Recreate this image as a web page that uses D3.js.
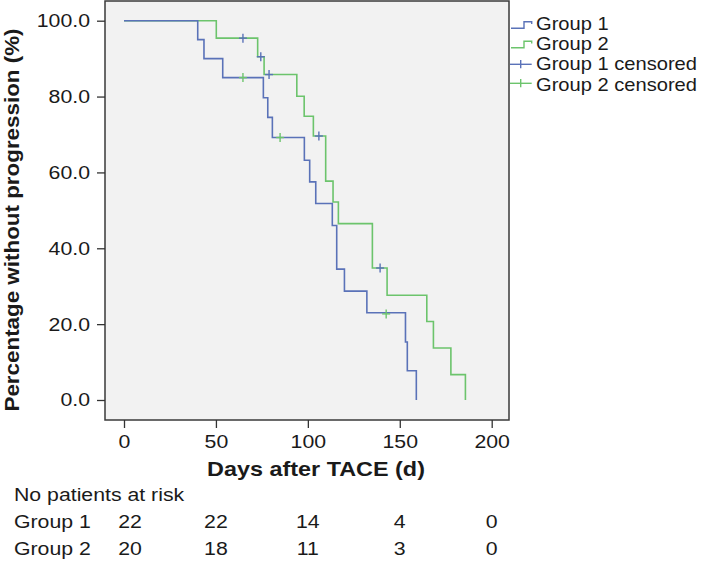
<!DOCTYPE html>
<html>
<head>
<meta charset="utf-8">
<script src="https://cdn.jsdelivr.net/npm/d3@7"></script>
<style>
  html, body { margin: 0; padding: 0; background: #ffffff; }
  svg { display: block; }
  text { font-family: "Liberation Sans", Arial, sans-serif; fill: #1a1a1a; }
</style>
</head>
<body>
<svg id="chart" width="703" height="561"></svg>
<script>
// ---- data ----
const group1Times  = [0, 40.1, 43.5, 53.7, 75.8, 78.2, 80.7, 98.1, 101.0, 104.3, 113.3, 115.7, 119.9, 132.1, 153.1, 154.1, 159.0];
const group1Values = [100, 95.0, 90.0, 85.0, 79.7, 74.5, 69.2, 63.2, 57.5, 51.8, 46.0, 34.5, 28.7, 23.0, 15.3, 7.7, 0.0];
const group2Times  = [0, 50.2, 72.7, 76.2, 94.0, 98.0, 103.0, 109.7, 113.7, 116.6, 135.1, 143.1, 164.7, 168.3, 177.8, 185.7];
const group2Values = [100, 95.4, 90.5, 85.8, 80.1, 74.8, 69.6, 57.7, 52.2, 46.5, 34.8, 27.6, 20.7, 13.7, 6.7, 0.0];
// censored marks as they appear in the picture (colour per legend entry)
const group1CensoredTimes  = [64.7, 74.4, 78.9, 106.0, 139.3];
const group1CensoredValues = [95.4, 90.5, 85.8, 69.6, 34.8];
const group2CensoredTimes  = [64.7, 84.9, 142.6];
const group2CensoredValues = [85.0, 69.2, 22.7];

const legendLabels = ["Group 1", "Group 2", "Group 1 censored", "Group 2 censored"];
const xTicks = [0, 50, 100, 150, 200];
const yTicks = [0, 20, 40, 60, 80, 100];
const riskTitle = "No patients at risk";
const riskGroups = ["Group 1", "Group 2"];
const riskTimes = [0, 50, 100, 150, 200];
const riskGroup1 = [22, 22, 14, 4, 0];
const riskGroup2 = [20, 18, 11, 3, 0];
const xTitle = "Days after TACE (d)";
const yTitle = "Percentage without progression (%)";

// ---- drawing ----
const blue = "#5a72b8", green = "#6cc46c";
const svg = d3.select("#chart");
const frame = {left: 105, right: 509, top: 1, bottom: 420};
const FS = 18.5, SX = 1.15;

const x = d3.scaleLinear().domain([0, 200]).range([124, 491.7]);
const y = d3.scaleLinear().domain([0, 100]).range([400, 20.7]);

function addText(px, py, str, opt = {}) {
  return svg.append("text")
    .attr("transform", `translate(${px},${py}) ${opt.rotate ? "rotate(" + opt.rotate + ") " : ""}scale(${opt.sx || SX},1)`)
    .attr("text-anchor", opt.anchor || "start")
    .style("font-size", (opt.size || FS) + "px")
    .style("font-weight", opt.bold ? "bold" : "normal")
    .text(str);
}

svg.append("rect")
  .attr("x", frame.left).attr("y", frame.top)
  .attr("width", frame.right - frame.left).attr("height", frame.bottom - frame.top)
  .attr("fill", "#f2f2f2").attr("stroke", "#3a3a3a").attr("stroke-width", 1.5);

function styleTicks(g) {
  g.select(".domain").remove();
  g.selectAll(".tick line").attr("stroke", "#333").attr("stroke-width", 1.3);
  g.selectAll(".tick text")
    .style("font-size", FS + "px").style("font-family", "Liberation Sans, Arial, sans-serif")
    .attr("fill", "#1a1a1a")
    .attr("transform", function () {
      const xx = +this.getAttribute("x") || 0, yy = +this.getAttribute("y") || 0;
      return `translate(${xx},${yy}) scale(${SX},1)`;
    })
    .attr("x", 0).attr("y", 0);
}

// y axis
svg.append("g").attr("transform", `translate(${frame.left},0)`)
  .call(d3.axisLeft(y).tickValues(yTicks).tickFormat(d3.format(".1f")).tickSize(8).tickPadding(7))
  .call(styleTicks);

// x axis
svg.append("g").attr("transform", `translate(0,${frame.bottom})`)
  .call(d3.axisBottom(x).tickValues(xTicks).tickSize(8).tickPadding(7))
  .call(styleTicks);

// step curves
function stepData(times, values) { return times.map((t, i) => [t, values[i]]); }
const line = d3.line().x(d => x(d[0])).y(d => y(d[1])).curve(d3.curveStepAfter);
svg.append("path").datum(stepData(group2Times, group2Values))
  .attr("d", line).attr("fill", "none").attr("stroke", green).attr("stroke-width", 1.6);
svg.append("path").datum(stepData(group1Times, group1Values))
  .attr("d", line).attr("fill", "none").attr("stroke", blue).attr("stroke-width", 1.6);

// censor marks
function drawCensor(times, values, color) {
  const g = svg.append("g");
  times.forEach((t, i) => {
    const cx = x(t), cy = y(values[i]);
    g.append("line").attr("x1", cx).attr("x2", cx).attr("y1", cy - 4.5).attr("y2", cy + 4.5)
      .attr("stroke", color).attr("stroke-width", 1.4);
    g.append("line").attr("x1", cx - 4).attr("x2", cx + 4).attr("y1", cy).attr("y2", cy)
      .attr("stroke", color).attr("stroke-width", 1.4);
  });
}
drawCensor(group1CensoredTimes, group1CensoredValues, blue);
drawCensor(group2CensoredTimes, group2CensoredValues, green);

// axis titles
addText(316, 476, xTitle, {anchor: "middle", size: 20, bold: true, sx: 1.17});
addText(19, 220, yTitle, {anchor: "middle", size: 20, bold: true, sx: 1.12, rotate: -90});

// legend
const legendColors = [blue, green, blue, green];
const legendY = [25, 44.5, 64.3, 83.3];
const legendBase = [30.3, 50.2, 70.4, 90.5];
legendLabels.forEach((lab, i) => {
  const ly = legendY[i];
  if (i < 2) {
    svg.append("path").attr("d", `M511,${ly + 3.3}H524V${ly - 3.3}H531.7V${ly - 1}`)
      .attr("fill", "none").attr("stroke", legendColors[i]).attr("stroke-width", 1.4);
  } else {
    svg.append("line").attr("x1", 510).attr("x2", 531.7).attr("y1", ly).attr("y2", ly)
      .attr("stroke", legendColors[i]).attr("stroke-width", 1.4);
    svg.append("line").attr("x1", 520.7).attr("x2", 520.7).attr("y1", ly - 4.3).attr("y2", ly + 4)
      .attr("stroke", legendColors[i]).attr("stroke-width", 1.4);
  }
  addText(536, legendBase[i], lab, {size: 17.5, sx: 1.15});
});

// numbers at risk
addText(14, 501, riskTitle);
const riskRows = [riskGroup1, riskGroup2];
const riskY = [528, 555];
riskGroups.forEach((g, r) => {
  addText(14, riskY[r], g);
  riskRows[r].forEach((n, i) => {
    const cx = x(riskTimes[i]) + (i === 0 ? 6 : 0);
    addText(cx, riskY[r], n, {anchor: "middle"});
  });
});
</script>
</body>
</html>
